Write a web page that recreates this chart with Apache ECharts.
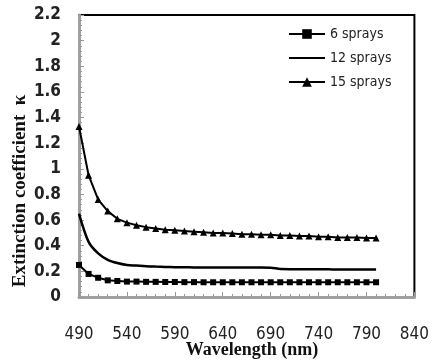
<!DOCTYPE html>
<html style="height: 100%">
<head>
<meta charset="utf-8">
<script src="https://cdn.jsdelivr.net/npm/echarts@6/dist/echarts.min.js"></script>
</head>
<body style="height: 100%; margin: 0; background: #fff">
<div id="chart" style="width: 432px; height: 363px;"></div>
<script type="text/javascript">
// wavelength (nm)
var wavelengths = [490, 500, 510, 520, 530, 540, 550, 560, 570, 580, 590, 600, 610, 620, 630, 640,
    650, 660, 670, 680, 690, 700, 710, 720, 730, 740, 750, 760, 770, 780, 790, 800];
var sprays6 = [0.25, 0.18, 0.15, 0.13, 0.125, 0.12, 0.12, 0.118, 0.118, 0.117, 0.117, 0.116, 0.116, 0.115, 0.115, 0.115,
    0.115, 0.115, 0.115, 0.115, 0.115, 0.115, 0.115, 0.115, 0.115, 0.115, 0.115, 0.115, 0.115, 0.115, 0.115, 0.115];
var sprays12 = [0.65, 0.43, 0.34, 0.29, 0.265, 0.25, 0.245, 0.24, 0.237, 0.235, 0.233, 0.232, 0.231, 0.23, 0.23, 0.23,
    0.23, 0.23, 0.23, 0.23, 0.229, 0.218, 0.217, 0.217, 0.216, 0.216, 0.216, 0.215, 0.215, 0.215, 0.215, 0.215];
var sprays15 = [1.33, 0.95, 0.76, 0.67, 0.61, 0.58, 0.56, 0.545, 0.535, 0.525, 0.52, 0.515, 0.51, 0.505, 0.5, 0.5,
    0.495, 0.49, 0.49, 0.485, 0.485, 0.48, 0.48, 0.475, 0.475, 0.47, 0.47, 0.465, 0.465, 0.465, 0.46, 0.46];
var seriesNames = ['6 sprays', '12 sprays', '15 sprays'];

function pairs(ys) {
    return wavelengths.map(function (w, i) { return [w, ys[i]]; });
}

var labelFont = "'Liberation Sans Narrow', 'DejaVu Sans Condensed', sans-serif";
var titleFont = "'Liberation Serif', 'DejaVu Serif', serif";

var myChart = echarts.init(document.getElementById('chart'));
var option = {
    animation: false,
    grid: {
        left: 79, right: 17, top: 15, bottom: 66,
        show: true, borderColor: '#000', borderWidth: 2
    },
    legend: {
        orient: 'vertical',
        left: 283, top: 22,
        itemWidth: 36, itemHeight: 12, itemGap: 10,
        textStyle: { fontFamily: labelFont, fontSize: 14, color: '#222' },
        data: [
            { name: seriesNames[0] },
            { name: seriesNames[1], itemStyle: { opacity: 0 } },
            { name: seriesNames[2] }
        ]
    },
    xAxis: {
        type: 'value', min: 490, max: 840, interval: 50,
        axisLine: { lineStyle: { color: '#a0a0a0', width: 3 } },
        axisTick: { inside: true, length: 5, lineStyle: { color: '#999' } },
        minorTick: { show: true, splitNumber: 5, length: 3, lineStyle: { color: '#999' } },
        splitLine: { show: false },
        axisLabel: { margin: 29, fontFamily: labelFont, fontSize: 17, color: '#222' }
    },
    yAxis: {
        type: 'value', min: 0, max: 2.2, interval: 0.2,
        axisLine: { show: true, lineStyle: { color: '#a0a0a0', width: 3 } },
        axisTick: { show: true, inside: true, length: 5, lineStyle: { color: '#999' } },
        minorTick: { show: true, splitNumber: 5, length: 3, lineStyle: { color: '#999' } },
        splitLine: { show: false },
        axisLabel: { margin: 18, fontFamily: labelFont, fontSize: 17, fontWeight: 'bold', color: '#222' }
    },
    graphic: [
        {
            type: 'text', x: 20, y: 191, rotation: Math.PI / 2,
            style: {
                text: 'Extinction coefficient  \u03ba', fontFamily: titleFont, fontSize: 19, fontWeight: 'bold',
                fill: '#111', align: 'center', verticalAlign: 'middle'
            }
        },
        {
            type: 'text', x: 252, y: 350,
            style: {
                text: 'Wavelength (nm)', fontFamily: titleFont, fontSize: 18, fontWeight: 'bold',
                fill: '#111', align: 'center', verticalAlign: 'middle'
            }
        }
    ],
    series: [
        {
            name: seriesNames[0], type: 'line', data: pairs(sprays6),
            symbol: 'rect', symbolSize: 6,
            lineStyle: { color: '#000', width: 2 }, itemStyle: { color: '#000' }
        },
        {
            name: seriesNames[1], type: 'line', data: pairs(sprays12),
            symbol: 'none', smooth: 0.3,
            lineStyle: { color: '#000', width: 2.5 }, itemStyle: { color: '#000' }
        },
        {
            name: seriesNames[2], type: 'line', data: pairs(sprays15),
            symbol: 'triangle', symbolSize: 7,
            lineStyle: { color: '#000', width: 2 }, itemStyle: { color: '#000' }
        }
    ]
};
myChart.setOption(option);
</script>
</body>
</html>
